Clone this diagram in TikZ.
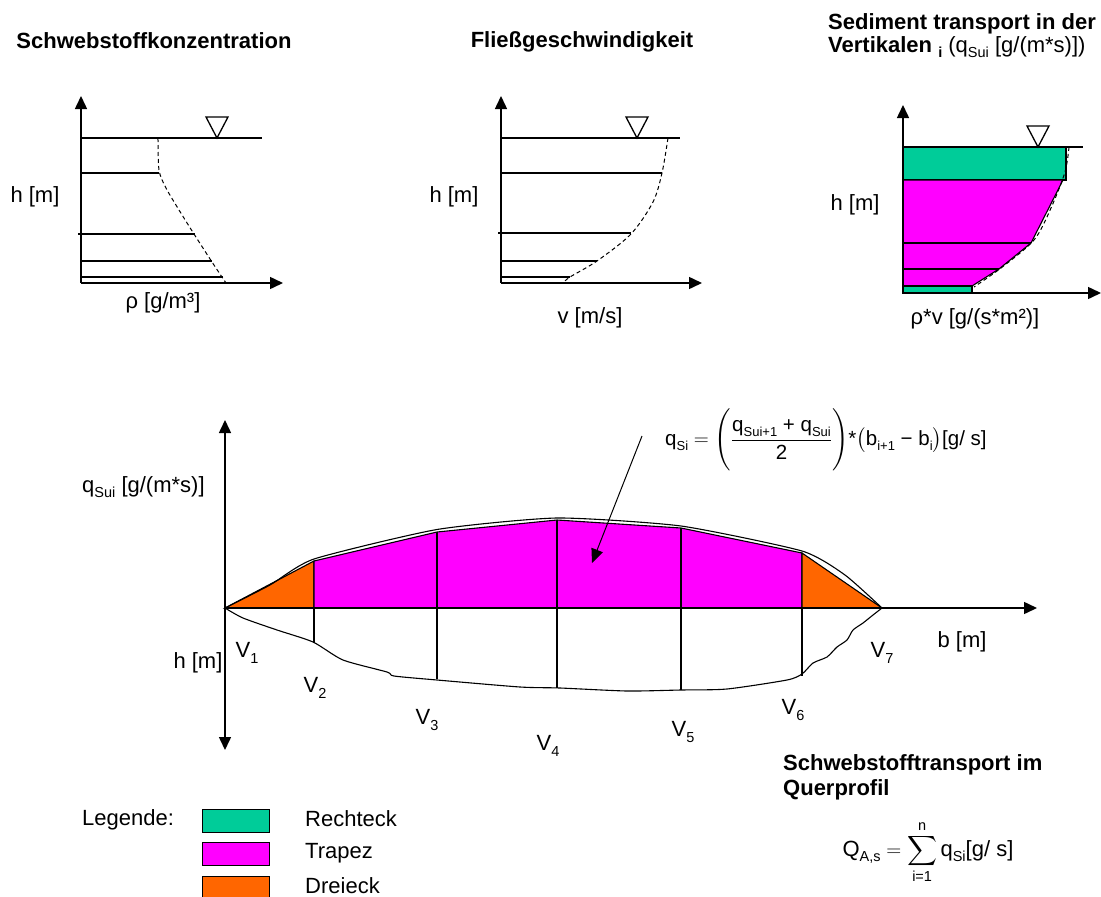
\documentclass[tikz,border=0pt]{standalone}
\usepackage{amsmath}
\usepackage{fontspec}
\setmainfont{Liberation Sans}
\usetikzlibrary{arrows.meta}

\definecolor{rechteck}{RGB}{0,204,153}
\definecolor{trapez}{RGB}{255,0,255}
\definecolor{dreieck}{RGB}{255,102,0}

\newcommand{\lowtxt}[1]{\raisebox{-0.45ex}{\fontsize{14.5}{15}\selectfont #1}}
\newcommand{\lowsmall}[1]{\raisebox{-0.45ex}{\fontsize{13}{14}\selectfont #1}}
\newcommand{\smalltxt}[1]{\hbox{\fontsize{14.5}{15}\selectfont #1}}

\begin{document}
\begin{tikzpicture}[
    x=1pt, y=-1pt,
    every node/.style={font=\fontsize{22}{26}\selectfont, inner sep=0pt},
    title/.style={font=\fontsize{22}{26}\selectfont\bfseries},
    formula/.style={font=\fontsize{20.5}{24}\selectfont},
    axis/.style={-{Triangle[length=13pt,width=12pt]}, line width=1.5pt},
    level/.style={line width=1.3pt},
    profile/.style={dashed, dash pattern=on 4pt off 3pt, line width=1pt},
    surf/.style={draw, line width=1.3pt, fill=white},
    part/.style={draw, line width=1.1pt},
    legbox/.style={draw, line width=1pt, minimum width=67pt, minimum height=23pt},
    pointer/.style={-{Triangle[length=14pt,width=12pt]}, line width=1pt}]

  \useasboundingbox (0,0) rectangle (1101,897);

  % Schwebstoffkonzentration
  \node[title] (tConc) at (154,41) {Schwebstoffkonzentration};
  \coordinate (cO) at (81,283);
  \draw[level] (81,138) -- (262,138);
  \draw[level] (81,173) -- (159,173);
  \draw[level] (78,234) -- (195,234);
  \draw[level] (81,261) -- (212,261);
  \draw[level] (81,277) -- (223,277);
  \draw[profile] plot[smooth] coordinates {(158,138) (159,170) (166,188) (179,210) (194,234) (212,262) (226,283)};
  \draw[axis] (cO) -- (81,96);
  \draw[axis] (cO) -- (283,283);
  \node (cH) at (35,197) {h [m]};
  \node (cRho) at (163,303) {ρ [g/m³]};

  % Fliessgeschwindigkeit
  \node[title] (tVel) at (582,42) {Fließgeschwindigkeit};
  \coordinate (vO) at (501,283);
  \draw[level] (501,138) -- (680,138);
  \draw[level] (501,173) -- (662,173);
  \draw[level] (498,233) -- (631,233);
  \draw[level] (501,261) -- (597,261);
  \draw[level] (501,277) -- (570,277);
  \draw[profile] plot[smooth] coordinates {(668,138) (662,173) (653,202) (631,234) (597,261) (570,277) (563,283)};
  \draw[axis] (vO) -- (501,96);
  \draw[axis] (vO) -- (702,283);
  \node (vH) at (454,197) {h [m]};
  \node (vV) at (590,318) {v [m/s]};

  % Sedimenttransport in der Vertikalen
  \node[title, anchor=west] (tSed) at (828,24) {Sediment transport in der};
  \node[anchor=west] (tSedTwo) at (828,47) {\textbf{Vertikalen \lowtxt{i}} (q\lowtxt{Sui} [g/(m*s)])};
  \coordinate (sO) at (903,293);
  \draw[part, fill=rechteck] (903,147) rectangle (1066,180);
  \draw[part, fill=trapez] (903,180) -- (1063,180) -- (1031,243) -- (999,269) -- (972,286) -- (903,286) -- cycle;
  \draw[level] (903,243) -- (1031,243);
  \draw[level] (903,269) -- (999,269);
  \draw[part, fill=rechteck] (903,286) rectangle (972,293);
  \draw[profile] plot[smooth] coordinates {(1069,147) (1065,172) (1051,208) (1034,240) (1001,268) (974,287)};
  \draw[level] (903,147) -- (1083,147);
  \draw[axis] (sO) -- (903,105);
  \draw[axis] (sO) -- (1101,293);
  \node (sH) at (855,205) {h [m]};
  \node (sRhoV) at (975,319) {ρ*v [g/(s*m²)]};

  % Wasserspiegel
  \foreach \wx/\wy in {217/138, 637/138, 1038/147}
    \draw[surf] (\wx-11,\wy-21) -- (\wx+11,\wy-21) -- (\wx,\wy) -- cycle;

  % Querprofil
  \coordinate (qO) at (225,608);
  \draw[part, fill=dreieck] (225,608) -- (314,561) -- (314,608) -- cycle;
  \draw[part, fill=trapez] (314,608) -- (314,561) -- (437,532) -- (557,520) -- (681,528) -- (802,553) -- (802,608) -- cycle;
  \draw[part, fill=dreieck] (802,608) -- (802,553) -- (882,608) -- cycle;
  \draw[part] (437,608) -- (437,532);
  \draw[part] (557,608) -- (557,520);
  \draw[part] (681,608) -- (681,528);
  \draw[line width=1.1pt] plot[smooth, tension=0.35] coordinates {(225,608) (270,585) (314,559) (437,529.5) (557,518) (681,526) (802,551) (845,575) (882,608)};
  \draw[line width=1.1pt] plot[smooth, tension=0.4] coordinates {(225,608) (243,618) (277,630) (313,642) (343,660) (387,672) (394,676) (437,680) (520,687) (560,688) (627,691) (681,690) (727,689) (787,680) (802,674) (813,663) (827,657) (837,647) (847,640) (853,630) (863,623) (873,615) (882,608)};
  \draw[part] (314,608) -- (314,643);
  \draw[part] (437,608) -- (437,679);
  \draw[part] (557,608) -- (557,688);
  \draw[part] (681,608) -- (681,690);
  \draw[part] (802,608) -- (802,676);
  \draw[axis] (qO) -- (1037,608);
  \draw[axis, {Triangle[length=13pt,width=12pt]}-{Triangle[length=13pt,width=12pt]}] (225,750) -- (225,420);
  \node[anchor=west] (qLabel) at (82,487) {q\lowtxt{Sui} [g/(m*s)]};
  \node (qH) at (198,663) {h [m]};
  \node (qB) at (962,642) {b [m]};
  \node (vOne)   at (247,653) {V\lowtxt{1}};
  \node (vTwo)   at (315,688) {V\lowtxt{2}};
  \node (vThree) at (427,720) {V\lowtxt{3}};
  \node (vFour)  at (548,746) {V\lowtxt{4}};
  \node (vFive)  at (683,732) {V\lowtxt{5}};
  \node (vSix)   at (793,710) {V\lowtxt{6}};
  \node (vSeven) at (882,653) {V\lowtxt{7}};

  % Formel Trapez
  \node[formula, anchor=west] (fSi) at (665,440) {$\hbox{q\lowsmall{Si}} = \Biggl(\dfrac{\hbox{q\lowsmall{Sui+1} + q\lowsmall{Sui}}}{\hbox{2}}\Biggr)\hbox{*}\bigl(\hbox{b\lowsmall{i+1} − b\lowsmall{i}}\bigr)\hbox{[g/ s]}$};
  \coordinate (ptStart) at (642,436);
  \coordinate (ptTip) at (592,563);
  \draw[pointer] (ptStart) -- (ptTip);

  % Legende
  \node[anchor=west] (legTitle) at (82,820) {Legende:};
  \node[legbox, fill=rechteck] (legR) at (235.5,820.5) {};
  \node[legbox, fill=trapez] (legT) at (235.5,854) {};
  \node[legbox, fill=dreieck] (legD) at (235.5,887.5) {};
  \node[anchor=west] (legRTxt) at (305,819) {Rechteck};
  \node[anchor=west] (legTTxt) at (305,853) {Trapez};
  \node[anchor=west] (legDTxt) at (305,886) {Dreieck};

  % Schwebstofftransport im Querprofil
  \node[title, anchor=west] (tQuer) at (783,765) {Schwebstofftransport im};
  \node[title, anchor=west] (tQuerTwo) at (783,790) {Querprofil};
  \node (fQ) at (928,852) {$\displaystyle \hbox{Q\lowtxt{A,s}} = \sum_{\smalltxt{i=1}}^{\smalltxt{n}} \hbox{q\lowtxt{Si}[g/ s]}$};
\end{tikzpicture}
\end{document}
